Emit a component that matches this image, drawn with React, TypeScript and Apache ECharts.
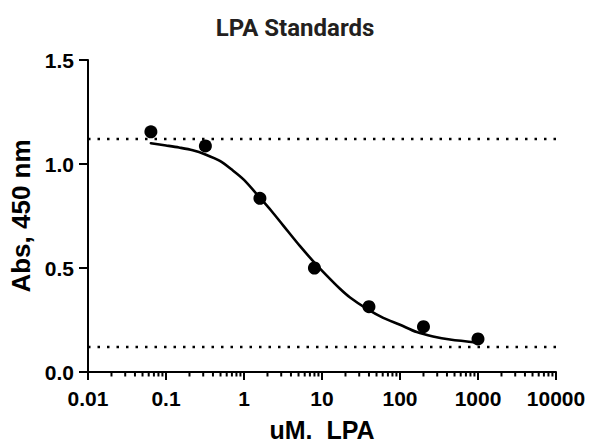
import React, { useEffect, useRef } from "react";
import * as echarts from "echarts";

const TITLE = "LPA Standards";
const X_NAME = "uM.  LPA";
const Y_NAME = "Abs, 450 nm";

// Measured standards
const CONC = [0.064, 0.32, 1.6, 8, 40, 200, 1000];
const ABS = [1.155, 1.087, 0.835, 0.5, 0.314, 0.218, 0.159];

// Fitted curve
const FIT_X = [0.064, 0.1, 0.147, 0.22, 0.32, 0.49, 0.72, 1, 1.6, 2.25, 3.19, 5.2, 8, 11.6, 17, 22.9, 37.7, 61, 100, 164, 265, 437, 1000];
const FIT_Y = [1.1, 1.089, 1.079, 1.066, 1.046, 1.015, 0.969, 0.924, 0.838, 0.774, 0.704, 0.606, 0.526, 0.462, 0.4, 0.358, 0.303, 0.26, 0.227, 0.192, 0.171, 0.156, 0.141];

// Plateaus (dotted lines)
const TOP_PLATEAU = 1.12;
const BOTTOM_PLATEAU = 0.12;

const X_MIN = 0.01;
const X_MAX = 10000;
const Y_MIN = 0;
const Y_MAX = 1.5;
const Y_STEP = 0.5;
const MINOR_MULTIPLIERS = [2, 3, 4, 5, 6, 7, 8, 9];
const DECADES = [0.01, 0.1, 1, 10, 100, 1000];

const FONT = "'Liberation Sans', Arial, sans-serif";

export default function App() {
  const ref = useRef<HTMLDivElement>(null);

  useEffect(() => {
    if (!ref.current) return;
    const chart = echarts.init(ref.current, undefined, { renderer: "svg" });

    const minorTicks: number[][] = [];
    DECADES.forEach((d) => MINOR_MULTIPLIERS.forEach((m) => minorTicks.push([Number((d * m).toPrecision(6)), Y_MIN])));

    const option: any = {
      animation: false,
      backgroundColor: "#ffffff",
      title: {
        text: TITLE,
        left: "center",
        top: 11,
        padding: 5,
        textStyle: { fontFamily: "Roboto, sans-serif", fontWeight: "bold", fontSize: 24, color: "#231f20" },
      },
      grid: { left: 88, right: 34, top: 60, bottom: 70, containLabel: false, outerBoundsMode: "none" },
      xAxis: {
        type: "log",
        logBase: 10,
        min: X_MIN,
        max: X_MAX,
        name: X_NAME,
        nameLocation: "middle",
        nameGap: 45,
        nameTextStyle: { fontFamily: FONT, fontWeight: "bold", fontSize: 25, lineHeight: 25, color: "#000" },
        axisLine: { show: true, onZero: false, lineStyle: { color: "#000", width: 2 } },
        axisTick: { show: true, inside: false, length: 8, lineStyle: { color: "#000", width: 2 } },
        axisLabel: {
          margin: 16,
          fontFamily: FONT,
          fontWeight: "bold",
          fontSize: 21,
          color: "#000",
          formatter: (v: number) => String(Number(v.toPrecision(6))),
        },
        splitLine: { show: false },
        minorTick: { show: false },
      },
      yAxis: {
        type: "value",
        min: Y_MIN,
        max: Y_MAX,
        interval: Y_STEP,
        name: Y_NAME,
        nameLocation: "middle",
        nameRotate: 90,
        nameGap: 51,
        nameTextStyle: { fontFamily: FONT, fontWeight: "bold", fontSize: 26, color: "#000" },
        axisLine: { show: true, onZero: false, lineStyle: { color: "#000", width: 2 } },
        axisTick: { show: true, inside: false, length: 9, lineStyle: { color: "#000", width: 2 } },
        axisLabel: {
          margin: 14,
          fontFamily: FONT,
          fontWeight: "bold",
          fontSize: 21,
          color: "#000",
          formatter: (v: number) => v.toFixed(1),
        },
        splitLine: { show: false },
      },
      series: [
        {
          type: "custom",
          silent: true,
          clip: false,
          data: minorTicks,
          renderItem: (_p: any, api: any) => {
            const pt = api.coord([api.value(0), api.value(1)]);
            return {
              type: "line",
              shape: { x1: pt[0], y1: pt[1], x2: pt[0], y2: pt[1] + 4.5 },
              style: { stroke: "#000", lineWidth: 2 },
            };
          },
          z: 1,
        },
        {
          type: "line",
          data: [[X_MIN, TOP_PLATEAU], [X_MAX, TOP_PLATEAU]],
          showSymbol: false,
          silent: true,
          lineStyle: { color: "#000", width: 2.5, type: [2.5, 7] },
          z: 2,
        },
        {
          type: "line",
          data: [[X_MIN, BOTTOM_PLATEAU], [X_MAX, BOTTOM_PLATEAU]],
          showSymbol: false,
          silent: true,
          lineStyle: { color: "#000", width: 2.5, type: [2.5, 7] },
          z: 2,
        },
        {
          type: "line",
          data: FIT_X.map((x, i) => [x, FIT_Y[i]]),
          smooth: 0.3,
          showSymbol: false,
          silent: true,
          lineStyle: { color: "#000", width: 2.6, join: "round", cap: "round" },
          z: 3,
        },
        {
          type: "scatter",
          data: CONC.map((x, i) => [x, ABS[i]]),
          symbol: "circle",
          symbolSize: 13,
          itemStyle: { color: "#000", opacity: 1 },
          z: 4,
        },
      ],
    };

    chart.setOption(option);
    return () => chart.dispose();
  }, []);

  return <div ref={ref} style={{ width: 590, height: 442, position: "absolute", left: 0, top: 0 }} />;
}
